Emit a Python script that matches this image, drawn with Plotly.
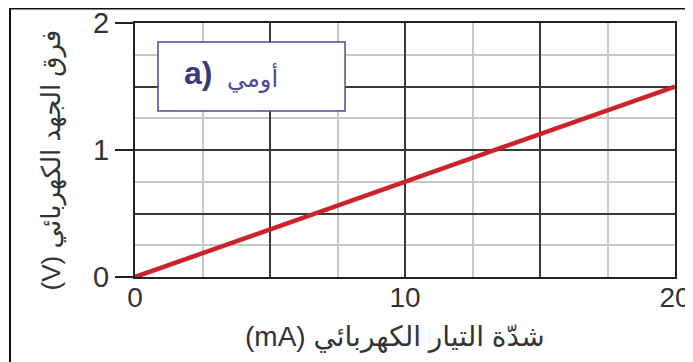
import plotly.graph_objects as go

# Data
current_mA = [0, 20]
voltage_V = [0.0, 1.5]
x_tick_vals = [0, 5, 10, 15, 20]
x_tick_text = ["0", "", "10", "", "20"]
x_minor_vals = [2.5, 7.5, 12.5, 17.5]
y_tick_vals = [0, 1, 2]
y_tick_text = ["0", "1", "2"]
y_mid_vals = [0.5, 1.5]
y_minor_vals = [0.25, 0.75, 1.25, 1.75]
x_title = "شدّة التيار الكهربائي (mA)"
y_title = "فرق الجهد الكهربائي (V)"
label_a = "a)"
label_ohm = "أومي"

RLE, PDF = "\u202B", "\u202C"
DARK = "#3a3a3a"
LIGHT = "#c8c8c8"
FONT = "Liberation Sans, DejaVu Sans, Arial, sans-serif"
OFF = 8  # page offset of the browser body

fig = go.Figure()
fig.add_trace(go.Scatter(x=current_mA, y=voltage_V, mode="lines",
                         line=dict(color="#cc2229", width=4.5),
                         showlegend=False, hoverinfo="skip"))
# helper trace so the overlay axis is created
fig.add_trace(go.Scatter(x=current_mA, y=voltage_V, mode="lines", yaxis="y2",
                         line=dict(color="rgba(0,0,0,0)", width=0),
                         showlegend=False, hoverinfo="skip"))

fig.update_layout(
    width=693, height=362,
    margin=dict(l=135 - OFF, r=18 + OFF, t=23 - OFF, b=85 + OFF),
    paper_bgcolor="white", plot_bgcolor="white",
    font=dict(family=FONT, color="#333333"),
    xaxis=dict(
        range=[0, 20], tickmode="array", tickvals=x_tick_vals, ticktext=x_tick_text,
        ticks="", showgrid=True, gridcolor=DARK, gridwidth=1.5,
        minor=dict(tickvals=x_minor_vals, showgrid=True, gridcolor=LIGHT, gridwidth=2, ticks=""),
        showline=True, linecolor="#222222", linewidth=2, mirror=True,
        tickfont=dict(size=28, color="#333333"), ticklabelstandoff=-6,
        ticklabeloverflow="allow",
        zeroline=False, automargin=False,
    ),
    yaxis=dict(
        range=[0, 2], tickmode="array", tickvals=y_tick_vals, ticktext=y_tick_text,
        ticks="outside", ticklen=18, tickwidth=2, tickcolor="#222222",
        showgrid=True, gridcolor=DARK, gridwidth=1.5,
        minor=dict(tickvals=y_minor_vals, showgrid=True, gridcolor=LIGHT, gridwidth=2, ticks=""),
        showline=True, linecolor="#222222", linewidth=2, mirror=True,
        tickfont=dict(size=29, color="#333333"), ticklabeloverflow="allow",
        zeroline=False, automargin=False,
    ),
    yaxis2=dict(
        range=[0, 2], overlaying="y", side="left", tickmode="array", tickvals=y_mid_vals,
        showticklabels=False, ticks="", showgrid=True, gridcolor=DARK, gridwidth=1.5,
        zeroline=False, showline=False,
    ),
)

# axis titles (placed as annotations to match the reference position)
fig.add_annotation(text=RLE + y_title + PDF, xref="paper", yref="paper",
                   x=-0.155, y=0.46, xanchor="center", yanchor="middle", textangle=-90,
                   showarrow=False, font=dict(size=26, color="#333333", family=FONT))
fig.add_annotation(text=RLE + x_title + PDF, xref="paper", yref="paper",
                   x=0.4815, y=-0.236, xanchor="center", yanchor="middle",
                   showarrow=False, font=dict(size=28, color="#333333", family=FONT))

# outer frame
fig.add_shape(type="rect", xref="paper", yref="paper",
              x0=-0.2315, x1=1.2, y0=-0.5, y1=1.057,
              line=dict(color="#111111", width=2), fillcolor="rgba(0,0,0,0)", layer="above")

# inset label box
fig.add_shape(type="rect", xref="paper", yref="paper",
              x0=0.0426, x1=0.389, y0=0.654, y1=0.925,
              line=dict(color="#4a4a96", width=1.5), fillcolor="white", layer="above")
fig.add_annotation(text="<b>" + label_a + "</b>", xref="paper", yref="paper",
                   x=0.1167, y=0.803, xanchor="center", yanchor="middle", showarrow=False,
                   font=dict(size=32, color="#3b3a78", family=FONT))
fig.add_annotation(text=label_ohm, xref="paper", yref="paper",
                   x=0.2185, y=0.783, xanchor="center", yanchor="middle", showarrow=False,
                   font=dict(size=24, color="#4a4a96", family=FONT))

fig.write_html("out.html")
